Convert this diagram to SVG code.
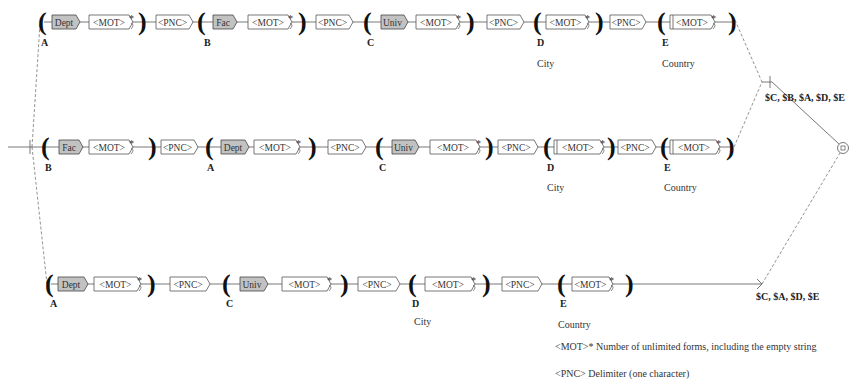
<svg xmlns="http://www.w3.org/2000/svg" width="859" height="385" viewBox="0 0 859 385">
<style>
  .box{fill:#fff;stroke:#555;stroke-width:0.8}
  .gbox{fill:#c2c2c2;stroke:#444;stroke-width:0.8}
  .t{font-family:"Liberation Serif",serif;font-size:9.5px;fill:#333;text-anchor:middle}
  .star{font-family:"Liberation Serif",serif;font-size:10px;fill:#333}
  .par{font-family:"Liberation Serif",serif;font-weight:bold;font-size:26px;fill:#111}
  .lab{font-family:"Liberation Serif",serif;font-weight:bold;font-size:10px;fill:#222}
  .cmt{font-family:"Liberation Serif",serif;font-size:10px;fill:#333}
  .wire{stroke:#555;stroke-width:0.8;fill:none}
  .dash{stroke:#777;stroke-width:0.8;fill:none;stroke-dasharray:3 2}
  .loop{stroke:#555;stroke-width:0.7;fill:none}
</style>

<!-- transitions -->
<g id="connectors">
  <path class="wire" d="M8,147 H30 M30,140 V154"/>
  <path class="dash" d="M32,147 L40,24 M32,147 L47,284"/>
  <path class="wire" d="M44,22 H734"/>
  <path class="wire" d="M30,147 H731"/>
  <path class="wire" d="M51,284 H762"/>
  <path class="dash" d="M735,20 L762,82 M734,147 L762,82"/>
  <path class="wire" d="M762,82 H772 M770,76 V88"/>
  <path class="wire" d="M772,82 L839,144"/>
  <path class="wire" d="M757,279 L762,284 L757,289"/>
  <path class="dash" d="M762,284 L840,153"/>
</g>

<!-- row 1 -->
<g id="r1-a-open"><text class="par" x="38" y="30">(</text><text class="lab" x="41" y="46">A</text></g>
<g id="r1-dept"><path class="gbox" d="M52,15 h24 l4,7 l-4,7 h-24 z"/><text class="t" x="64" y="25.5">Dept</text></g>
<g id="r1-mot1"><path class="box" d="M89,15 h40 l4,7 l-4,7 h-40 z"/><text class="t" x="109" y="25.5">&lt;MOT&gt;</text><text class="star" x="129" y="22">*</text><path class="loop" d="M131,23 q4,2 0,6"/></g>
<g id="r1-a-close"><text class="par" x="138" y="30">)</text></g>
<g id="r1-pnc1"><path class="box" d="M156,15 h33 l4,7 l-4,7 h-33 z"/><text class="t" x="172.5" y="25.5">&lt;PNC&gt;</text></g>
<g id="r1-b-open"><text class="par" x="197" y="30">(</text><text class="lab" x="204" y="46">B</text></g>
<g id="r1-fac"><path class="gbox" d="M213,15 h20 l4,7 l-4,7 h-20 z"/><text class="t" x="223" y="25.5">Fac</text></g>
<g id="r1-mot2"><path class="box" d="M248,15 h40 l4,7 l-4,7 h-40 z"/><text class="t" x="268" y="25.5">&lt;MOT&gt;</text><text class="star" x="288" y="22">*</text><path class="loop" d="M290,23 q4,2 0,6"/></g>
<g id="r1-b-close"><text class="par" x="298" y="30">)</text></g>
<g id="r1-pnc2"><path class="box" d="M316,15 h33 l4,7 l-4,7 h-33 z"/><text class="t" x="332.5" y="25.5">&lt;PNC&gt;</text></g>
<g id="r1-c-open"><text class="par" x="363" y="30">(</text><text class="lab" x="367" y="46">C</text></g>
<g id="r1-univ"><path class="gbox" d="M381,15 h23 l4,7 l-4,7 h-23 z"/><text class="t" x="392.5" y="25.5">Univ</text></g>
<g id="r1-mot3"><path class="box" d="M416,15 h40 l4,7 l-4,7 h-40 z"/><text class="t" x="436" y="25.5">&lt;MOT&gt;</text><text class="star" x="456" y="22">*</text><path class="loop" d="M458,23 q4,2 0,6"/></g>
<g id="r1-c-close"><text class="par" x="466" y="30">)</text></g>
<g id="r1-pnc3"><path class="box" d="M487,15 h33 l4,7 l-4,7 h-33 z"/><text class="t" x="503.5" y="25.5">&lt;PNC&gt;</text></g>
<g id="r1-d-open"><text class="par" x="533" y="30">(</text><text class="lab" x="537" y="46">D</text></g>
<g id="r1-mot4"><path class="box" d="M546,15 h39 l4,7 l-4,7 h-39 z"/><text class="t" x="565.5" y="25.5">&lt;MOT&gt;</text><text class="star" x="585" y="22">*</text><path class="loop" d="M587,23 q4,2 0,6"/></g>
<g id="r1-d-close"><text class="par" x="595" y="30">)</text></g>
<g id="r1-pnc4"><path class="box" d="M610,15 h32 l4,7 l-4,7 h-32 z"/><text class="t" x="626" y="25.5">&lt;PNC&gt;</text></g>
<g id="r1-e-open"><text class="par" x="657" y="30">(</text><text class="lab" x="662" y="46">E</text></g>
<g id="r1-mot5"><path class="box" d="M670,15 h41 l4,7 l-4,7 h-41 z"/><path class="wire" d="M673,15 V29"/><text class="t" x="692" y="25.5">&lt;MOT&gt;</text><text class="star" x="711" y="22">*</text><path class="loop" d="M713,23 q4,2 0,6"/></g>
<g id="r1-e-close"><text class="par" x="728" y="30">)</text></g>
<g id="r1-city"><text class="cmt" x="537" y="67">City</text></g>
<g id="r1-country"><text class="cmt" x="662" y="67">Country</text></g>

<!-- row 2 -->
<g id="r2-b-open"><text class="par" x="41" y="155">(</text><text class="lab" x="45" y="171">B</text></g>
<g id="r2-fac"><path class="gbox" d="M59,140 h20 l4,7 l-4,7 h-20 z"/><text class="t" x="69" y="150.5">Fac</text></g>
<g id="r2-mot1"><path class="box" d="M89,140 h40 l4,7 l-4,7 h-40 z"/><text class="t" x="109" y="150.5">&lt;MOT&gt;</text><text class="star" x="129" y="147">*</text><path class="loop" d="M131,148 q4,2 0,6"/></g>
<g id="r2-b-close"><text class="par" x="148" y="155">)</text></g>
<g id="r2-pnc1"><path class="box" d="M161,140 h33 l4,7 l-4,7 h-33 z"/><text class="t" x="177.5" y="150.5">&lt;PNC&gt;</text></g>
<g id="r2-a-open"><text class="par" x="205" y="155">(</text><text class="lab" x="207" y="171">A</text></g>
<g id="r2-dept"><path class="gbox" d="M221,140 h24 l4,7 l-4,7 h-24 z"/><text class="t" x="233" y="150.5">Dept</text></g>
<g id="r2-mot2"><path class="box" d="M254,140 h42 l4,7 l-4,7 h-42 z"/><text class="t" x="275" y="150.5">&lt;MOT&gt;</text><text class="star" x="296" y="147">*</text><path class="loop" d="M298,148 q4,2 0,6"/></g>
<g id="r2-a-close"><text class="par" x="308" y="155">)</text></g>
<g id="r2-pnc2"><path class="box" d="M328,140 h34 l4,7 l-4,7 h-34 z"/><text class="t" x="345" y="150.5">&lt;PNC&gt;</text></g>
<g id="r2-c-open"><text class="par" x="375" y="155">(</text><text class="lab" x="379" y="171">C</text></g>
<g id="r2-univ"><path class="gbox" d="M392,140 h23 l4,7 l-4,7 h-23 z"/><text class="t" x="403.5" y="150.5">Univ</text></g>
<g id="r2-mot3"><path class="box" d="M430,140 h46 l4,7 l-4,7 h-46 z"/><text class="t" x="453" y="150.5">&lt;MOT&gt;</text><text class="star" x="476" y="147">*</text><path class="loop" d="M478,148 q4,2 0,6"/></g>
<g id="r2-c-close"><text class="par" x="485" y="155">)</text></g>
<g id="r2-pnc3"><path class="box" d="M498,140 h36 l4,7 l-4,7 h-36 z"/><text class="t" x="516" y="150.5">&lt;PNC&gt;</text></g>
<g id="r2-d-open"><text class="par" x="543" y="155">(</text><text class="lab" x="547" y="171">D</text></g>
<g id="r2-mot4"><path class="box" d="M554,140 h46 l4,7 l-4,7 h-46 z"/><path class="wire" d="M557,140 V154"/><text class="t" x="578" y="150.5">&lt;MOT&gt;</text><text class="star" x="600" y="147">*</text><path class="loop" d="M602,148 q4,2 0,6"/></g>
<g id="r2-d-close"><text class="par" x="607" y="155">)</text></g>
<g id="r2-pnc4"><path class="box" d="M618,140 h34 l4,7 l-4,7 h-34 z"/><text class="t" x="635" y="150.5">&lt;PNC&gt;</text></g>
<g id="r2-e-open"><text class="par" x="660" y="155">(</text><text class="lab" x="664" y="171">E</text></g>
<g id="r2-mot5"><path class="box" d="M670,140 h46 l4,7 l-4,7 h-46 z"/><path class="wire" d="M673,140 V154"/><text class="t" x="694" y="150.5">&lt;MOT&gt;</text><text class="star" x="716" y="147">*</text><path class="loop" d="M718,148 q4,2 0,6"/></g>
<g id="r2-e-close"><text class="par" x="726" y="155">)</text></g>
<g id="r2-city"><text class="cmt" x="547" y="191">City</text></g>
<g id="r2-country"><text class="cmt" x="664" y="191">Country</text></g>

<!-- row 3 -->
<g id="r3-a-open"><text class="par" x="45" y="292">(</text><text class="lab" x="50" y="307">A</text></g>
<g id="r3-dept"><path class="gbox" d="M58,277 h26 l4,7 l-4,7 h-26 z"/><text class="t" x="71" y="287.5">Dept</text></g>
<g id="r3-mot1"><path class="box" d="M94,277 h43 l4,7 l-4,7 h-43 z"/><text class="t" x="115.5" y="287.5">&lt;MOT&gt;</text><text class="star" x="137" y="284">*</text><path class="loop" d="M139,285 q4,2 0,6"/></g>
<g id="r3-a-close"><text class="par" x="147" y="292">)</text></g>
<g id="r3-pnc1"><path class="box" d="M170,277 h36 l4,7 l-4,7 h-36 z"/><text class="t" x="188" y="287.5">&lt;PNC&gt;</text></g>
<g id="r3-c-open"><text class="par" x="222" y="292">(</text><text class="lab" x="226" y="307">C</text></g>
<g id="r3-univ"><path class="gbox" d="M240,277 h24 l4,7 l-4,7 h-24 z"/><text class="t" x="252" y="287.5">Univ</text></g>
<g id="r3-mot2"><path class="box" d="M282,277 h45 l4,7 l-4,7 h-45 z"/><text class="t" x="304.5" y="287.5">&lt;MOT&gt;</text><text class="star" x="327" y="284">*</text><path class="loop" d="M329,285 q4,2 0,6"/></g>
<g id="r3-c-close"><text class="par" x="340" y="292">)</text></g>
<g id="r3-pnc2"><path class="box" d="M358,277 h38 l4,7 l-4,7 h-38 z"/><text class="t" x="377" y="287.5">&lt;PNC&gt;</text></g>
<g id="r3-d-open"><text class="par" x="408" y="292">(</text><text class="lab" x="412" y="307">D</text></g>
<g id="r3-mot3"><path class="box" d="M425,277 h46 l4,7 l-4,7 h-46 z"/><text class="t" x="448" y="287.5">&lt;MOT&gt;</text><text class="star" x="471" y="284">*</text><path class="loop" d="M473,285 q4,2 0,6"/></g>
<g id="r3-d-close"><text class="par" x="482" y="292">)</text></g>
<g id="r3-pnc3"><path class="box" d="M502,277 h36 l4,7 l-4,7 h-36 z"/><text class="t" x="520" y="287.5">&lt;PNC&gt;</text></g>
<g id="r3-e-open"><text class="par" x="557" y="292">(</text><text class="lab" x="560" y="307">E</text></g>
<g id="r3-mot4"><path class="box" d="M572,277 h37 l4,7 l-4,7 h-37 z"/><text class="t" x="590.5" y="287.5">&lt;MOT&gt;</text><text class="star" x="609" y="284">*</text><path class="loop" d="M611,285 q4,2 0,6"/></g>
<g id="r3-e-close"><text class="par" x="625" y="292">)</text></g>
<g id="r3-city"><text class="cmt" x="414" y="325">City</text></g>
<g id="r3-country"><text class="cmt" x="558" y="328">Country</text></g>

<!-- outputs and final state -->
<g id="out1"><text class="lab" x="765" y="101">$C, $B, $A, $D, $E</text></g>
<g id="out2"><text class="lab" x="756" y="300">$C, $A, $D, $E</text></g>
<g id="final"><circle cx="843" cy="148" r="5.5" fill="#fff" stroke="#555" stroke-width="0.8"/><rect x="841" y="146" width="4" height="4" fill="none" stroke="#555" stroke-width="0.7"/></g>

<!-- legend -->
<g id="legend">
  <text class="cmt" x="555" y="350">&lt;MOT&gt;* Number of unlimited forms, including the empty string</text>
  <text class="cmt" x="555" y="377">&lt;PNC&gt; Delimiter (one character)</text>
</g>
</svg>
